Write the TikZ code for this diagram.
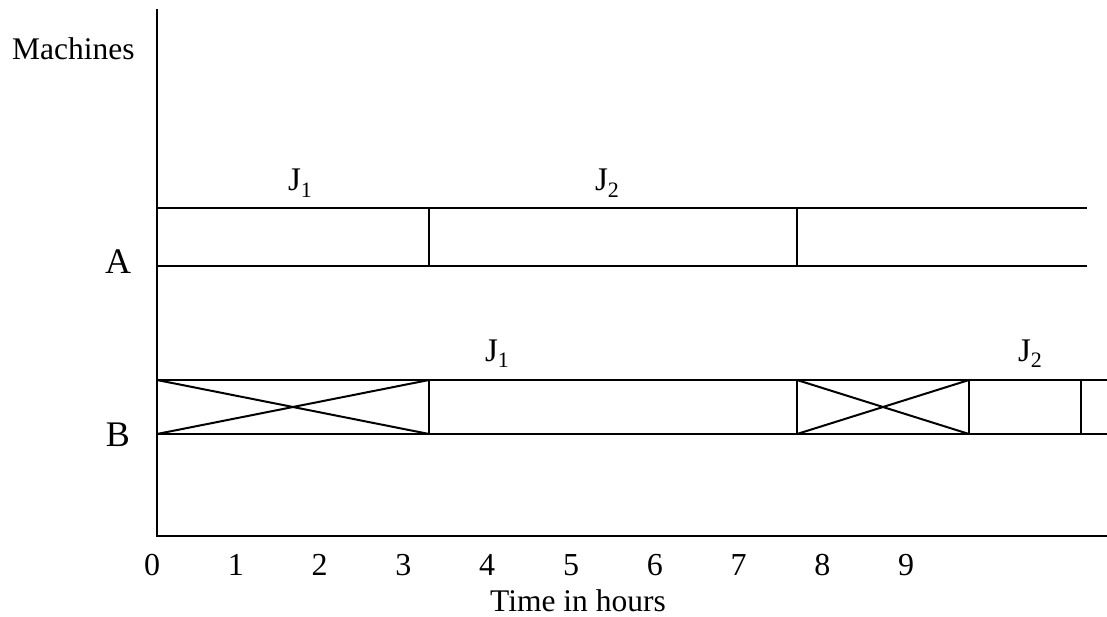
\documentclass[tikz,border=0pt]{standalone}
\usepackage{fontspec}
\setmainfont{Liberation Serif}
\newcommand\jsubs[1]{J\raisebox{-0.2em}{\fontsize{22}{22}\selectfont #1}}
\tikzset{
  ln/.style={line width=2pt, line cap=butt},
  lbl/.style={inner sep=0pt, anchor=base},
  axl/.style={lbl, font=\fontsize{31.5}{31.5}\selectfont},
  mlbl/.style={lbl, font=\fontsize{36}{36}\selectfont},
  jlbl/.style={lbl, font=\fontsize{33}{33}\selectfont},
  num/.style={lbl, font=\fontsize{32}{32}\selectfont},
}
\begin{document}
\begin{tikzpicture}[x=1pt,y=-1pt]
\useasboundingbox (0,0) rectangle (1107,617);
% axes
\coordinate (ytop) at (157,9);
\coordinate (orig) at (157,536);
\coordinate (xend) at (1107,536);
\draw[ln] (ytop) -- (orig) -- (xend);
% machine A
\coordinate (a0t) at (157,208); \coordinate (a0b) at (157,266);
\coordinate (a1t) at (429,208); \coordinate (a1b) at (429,266);
\coordinate (a2t) at (797,208); \coordinate (a2b) at (797,266);
\coordinate (a3t) at (1087,208); \coordinate (a3b) at (1087,266);
\draw[ln] (a0t) -- (a3t);
\draw[ln] (a0b) -- (a3b);
\draw[ln] (a1t) -- (a1b);
\draw[ln] (a2t) -- (a2b);
% machine B
\coordinate (b0t) at (157,380); \coordinate (b0b) at (157,434);
\coordinate (b1t) at (429,380); \coordinate (b1b) at (429,434);
\coordinate (b2t) at (797,380); \coordinate (b2b) at (797,434);
\coordinate (b3t) at (969,380); \coordinate (b3b) at (969,434);
\coordinate (b4t) at (1081,380); \coordinate (b4b) at (1081,434);
\coordinate (b5t) at (1107,380); \coordinate (b5b) at (1107,434);
\draw[ln] (b0t) -- (b5t);
\draw[ln] (b0b) -- (b5b);
\draw[ln] (b1t) -- (b1b);
\draw[ln] (b2t) -- (b2b);
\draw[ln] (b3t) -- (b3b);
\draw[ln] (b4t) -- (b4b);
\draw[ln] (b0t) -- (b1b);
\draw[ln] (b0b) -- (b1t);
\draw[ln] (b2t) -- (b3b);
\draw[ln] (b2b) -- (b3t);
% labels
\node[axl, anchor=base west] (mach) at (12,60) {Machines};
\node[mlbl] (labA) at (118,274) {A};
\node[mlbl] (labB) at (118,446) {B};
\node[jlbl] (ja1) at (300,191) {\jsubs{1}};
\node[jlbl] (ja2) at (607,191) {\jsubs{2}};
\node[jlbl] (jb1) at (497,361) {\jsubs{1}};
\node[jlbl] (jb2) at (1030,361) {\jsubs{2}};
\foreach \i in {0,...,9} {
  \node[num] (n\i) at ({152+83.8*\i},575) {\i};
}
\node[axl, anchor=base west] (tlab) at (490,611) {Time in hours};
\end{tikzpicture}
\end{document}
